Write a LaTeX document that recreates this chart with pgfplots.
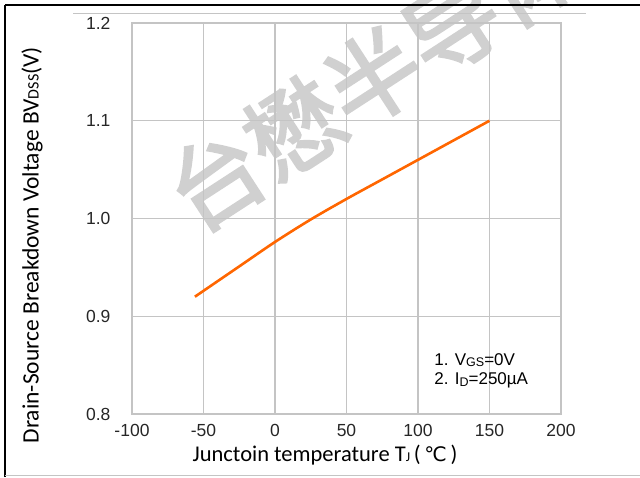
\documentclass[border=0pt]{standalone}
\usepackage{pgfplots}
\pgfplotsset{compat=1.18}
\usepackage{fontspec}
\setmainfont{Liberation Sans}
\newfontfamily\calibri{Carlito}
\newfontfamily\dejavu{DejaVu Sans}
\newfontfamily\cjk[FakeBold=2.5]{Noto Sans CJK SC}
\definecolor{gridgray}{RGB}{196,196,196}
\definecolor{curveorange}{RGB}{255,102,0}
\definecolor{wmgray}{RGB}{208,208,208}
\begin{document}
\begin{tikzpicture}[x=1pt,y=1pt]
\useasboundingbox (0,0) rectangle (640,477);
\begin{scope}
\clip (0,0) rectangle (640,477);
\node[rotate=33,text=wmgray,font=\cjk\fontsize{94}{94}\selectfont,inner sep=0pt] at (373,400) {台懋半导体};
\end{scope}
\draw[black,line width=1.2pt] (5,472) -- (640,472);
\draw[black,line width=1.2pt] (5,472) -- (5,0);
\draw[gridgray,line width=0.8pt] (73,464) -- (586,464);
\draw[gridgray,line width=0.8pt] (5,1.5) -- (640,1.5);
\begin{axis}[
  at={(132pt,63pt)}, anchor=south west,
  scale only axis, width=429pt, height=391pt,
  xmin=-100, xmax=200, ymin=0.8, ymax=1.2,
  xtick={-100,-50,0,50,100,150,200},
  ytick={0.8,0.9,1.0,1.1,1.2},
  yticklabel style={/pgf/number format/fixed,/pgf/number format/fixed zerofill,/pgf/number format/precision=1,/tikz/xshift=-18pt},
  /pgf/number format/assume math mode=true,
  ticklabel style={font=\fontsize{17.5}{19}\selectfont, text=black!85},
  xticklabel style={/tikz/yshift=-7pt},
  major tick length=0pt,
  grid=major,
  grid style={gridgray,line width=1.2pt},
  axis line style={gridgray,line width=1.2pt},
  xlabel={\calibri\fontsize{22.5}{24}\selectfont Junctoin temperature T{\fontsize{13.5}{13.5}\selectfont J}\,(\,{\dejavu\fontsize{20}{20}\selectfont ℃}\,)},
  ylabel={\calibri\fontsize{23.5}{25}\selectfont Drain-Source Breakdown Voltage BV{\fontsize{16}{16}\selectfont DSS}(V)},
  xlabel style={at={(axis description cs:0.45,-0.105)},anchor=center},
  ylabel style={at={(axis description cs:-0.233,0.432)},anchor=center,rotate=0},
  clip=false,
]
\addplot[curveorange, line width=2.6pt, smooth] coordinates {
(-56,0.920) (-25,0.951) (0,0.976) (25,0.999) (50,1.020) (75,1.040) (100,1.060) (125,1.080) (150,1.100)
};
\node[anchor=west,font=\fontsize{17}{19}\selectfont,align=left] at (axis cs:109,0.855) {1. V{\fontsize{12.5}{12.5}\selectfont\raisebox{-1.5pt}{GS}}=0V};
\node[anchor=west,font=\fontsize{17}{19}\selectfont,align=left] at (axis cs:109,0.834) {2. I{\fontsize{12.5}{12.5}\selectfont\raisebox{-1.5pt}{D}}=250µA};
\end{axis}
\end{tikzpicture}
\end{document}
